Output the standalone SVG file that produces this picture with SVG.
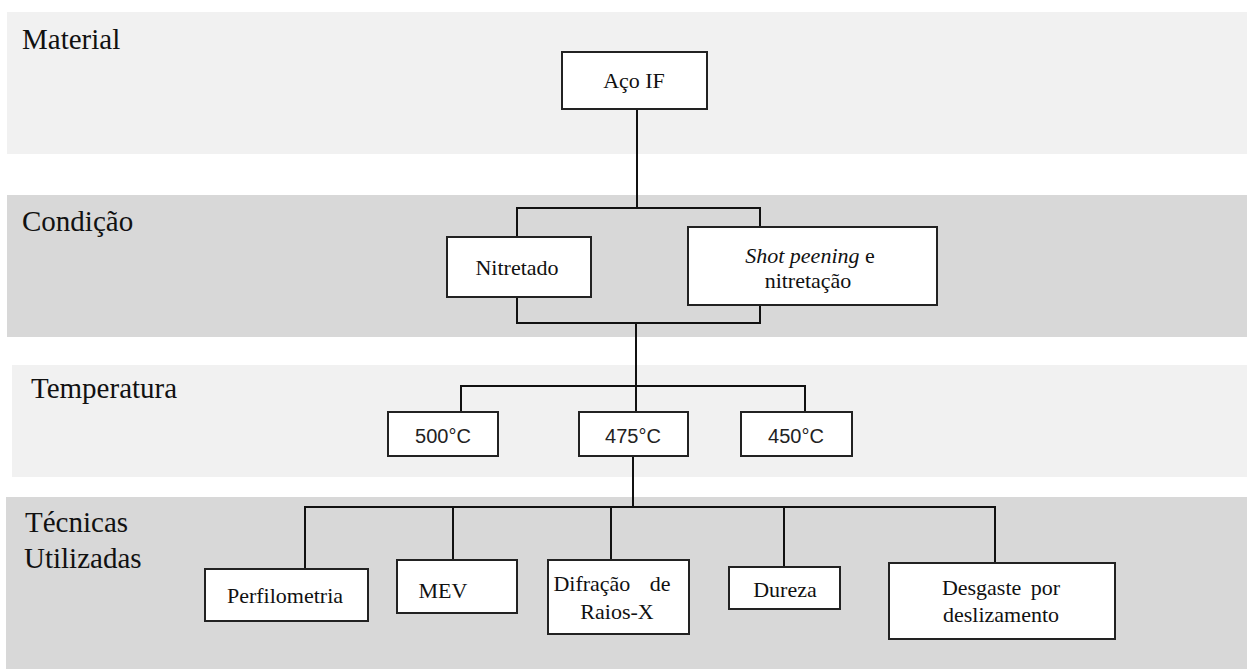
<svg xmlns="http://www.w3.org/2000/svg" width="1247" height="669" viewBox="0 0 1247 669">
<style>
.bandL{fill:#f1f1f1}
.bandD{fill:#d8d8d8}
.lbl{font-family:'Liberation Serif','DejaVu Serif',serif;font-size:29px;fill:#111}
.box{fill:#fff;stroke:#222;stroke-width:2}
.t{font-family:'Liberation Serif','DejaVu Serif',serif;font-size:22px;fill:#111;text-anchor:middle}
.s{font-family:'Liberation Sans',Arial,sans-serif;font-size:20px;fill:#222;text-anchor:middle}
.c{fill:none;stroke:#111;stroke-width:2}
</style>
<rect width="1247" height="669" fill="#fff"/>
<g id="bands">
<rect class="bandL" x="7" y="12" width="1240" height="142"/>
<rect class="bandD" x="7" y="195" width="1240" height="142"/>
<rect class="bandL" x="12" y="365" width="1235" height="112"/>
<rect class="bandD" x="6" y="497" width="1241" height="172"/>
<text class="lbl" x="22" y="49">Material</text>
<text class="lbl" x="22" y="231">Condição</text>
<text class="lbl" x="31" y="398">Temperatura</text>
<text class="lbl" x="25" y="532">Técnicas</text>
<text class="lbl" x="24" y="568">Utilizadas</text>
</g>
<g id="connectors">
<path class="c" d="M637 109V208"/>
<path class="c" d="M517 237V208H760V227"/>
<path class="c" d="M517 297V323H760V305"/>
<path class="c" d="M636 323V412"/>
<path class="c" d="M461 412V386H805V412"/>
<path class="c" d="M633 456V507"/>
<path class="c" d="M305 569V507H995V563"/>
<path class="c" d="M453 560V507"/>
<path class="c" d="M611 560V507"/>
<path class="c" d="M784 567V507"/>
</g>
<g id="aco">
<rect class="box" x="562" y="52" width="145" height="57"/>
<text class="t" x="634" y="88">Aço IF</text>
</g>
<g id="nitretado">
<rect class="box" x="447" y="237" width="144" height="60"/>
<text class="t" x="517" y="275">Nitretado</text>
</g>
<g id="shot">
<rect class="box" x="688" y="227" width="249" height="78"/>
<text class="t" x="810" y="263"><tspan font-style="italic">Shot peening</tspan> e</text>
<text class="t" x="808" y="288">nitretação</text>
</g>
<g id="t500">
<rect class="box" x="388" y="412" width="110" height="44"/>
<text class="s" x="443" y="443">500°C</text>
</g>
<g id="t475">
<rect class="box" x="579" y="412" width="109" height="44"/>
<text class="s" x="633" y="443">475°C</text>
</g>
<g id="t450">
<rect class="box" x="741" y="412" width="111" height="44"/>
<text class="s" x="796" y="443">450°C</text>
</g>
<g id="perfilometria">
<rect class="box" x="205" y="569" width="163" height="52"/>
<text class="t" x="285" y="603">Perfilometria</text>
</g>
<g id="mev">
<rect class="box" x="397" y="560" width="120" height="53"/>
<text class="t" x="443" y="598">MEV</text>
</g>
<g id="difracao">
<rect class="box" x="548" y="560" width="141" height="74"/>
<text class="t" x="612" y="591" word-spacing="14">Difração de</text>
<text class="t" x="617" y="619">Raios-X</text>
</g>
<g id="dureza">
<rect class="box" x="729" y="567" width="111" height="42"/>
<text class="t" x="785" y="597">Dureza</text>
</g>
<g id="desgaste">
<rect class="box" x="889" y="563" width="226" height="76"/>
<text class="t" x="1001" y="595" word-spacing="4">Desgaste por</text>
<text class="t" x="1001" y="622">deslizamento</text>
</g>
</svg>
